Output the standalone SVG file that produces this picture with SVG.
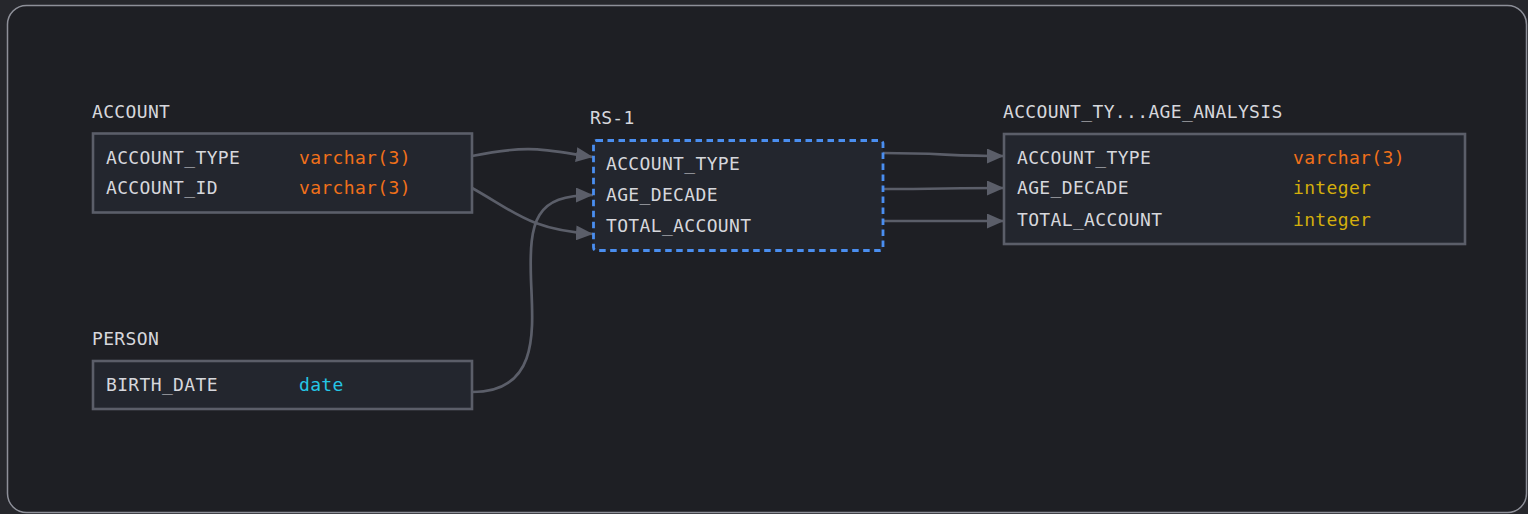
<svg xmlns="http://www.w3.org/2000/svg" width="1528" height="514" viewBox="0 0 1528 514">
  <style>
    .txt { font-family: "DejaVu Sans Mono", "Liberation Mono", monospace; font-size: 18px; letter-spacing: 0.35px; fill: #d6d7dc; }
    .title { fill: #d6d7dc; }
    .t-varchar { fill: #f0701a; }
    .t-int { fill: #d4ae0c; }
    .t-date { fill: #25c6e6; }
    .box { fill: #23262e; stroke: #5b5e69; stroke-width: 2.6; }
    .rs { fill: #23262e; stroke: #4a8ef0; stroke-width: 2.8; stroke-dasharray: 6.5 4.5; }
    .edge { fill: none; stroke: #5b5e69; stroke-width: 2.7; marker-end: url(#arrow); }
  </style>
  <defs>
    <marker id="arrow" viewBox="0 0 17 15" refX="17" refY="7.5" markerWidth="17" markerHeight="15" markerUnits="userSpaceOnUse" orient="auto">
      <path d="M0,0 L17,7.5 L0,15 Z" fill="#5b5e69"/>
    </marker>
  </defs>

  <!-- canvas -->
  <rect x="0" y="0" width="1528" height="514" fill="#26272c"/>
  <rect x="7.5" y="5.5" width="1519" height="507" rx="19" fill="#1e1f24" stroke="#8e9099" stroke-width="1.5"/>

  <!-- connectors -->
  <g id="connectors">
    <path class="edge" d="M472,156 C530,144 545,150 593,157"/>
    <path class="edge" d="M472,188 C515,212 530,230 593,234"/>
    <path class="edge" d="M472,392 C540,392 533,330 531,280 C529,220 535,195 593,195"/>
    <path class="edge" d="M883,153 C940,153 950,156 1004,156"/>
    <path class="edge" d="M883,189 C940,189 950,188 1004,188"/>
    <path class="edge" d="M883,221 C940,221 950,221 1004,221"/>
  </g>

  <!-- ACCOUNT table -->
  <g id="node-account">
    <text class="txt title" x="92" y="117.5">ACCOUNT</text>
    <rect class="box" x="93" y="133.5" width="379" height="79"/>
    <text class="txt" x="106" y="163.5">ACCOUNT_TYPE</text>
    <text class="txt t-varchar" x="299" y="163.5">varchar(3)</text>
    <text class="txt" x="106" y="194">ACCOUNT_ID</text>
    <text class="txt t-varchar" x="299" y="194">varchar(3)</text>
  </g>

  <!-- PERSON table -->
  <g id="node-person">
    <text class="txt title" x="92" y="345">PERSON</text>
    <rect class="box" x="93" y="361" width="379" height="48"/>
    <text class="txt" x="106" y="391">BIRTH_DATE</text>
    <text class="txt t-date" x="299" y="391">date</text>
  </g>

  <!-- RS-1 result set -->
  <g id="node-rs1">
    <text class="txt title" x="590" y="124">RS-1</text>
    <rect class="rs" x="593.5" y="140.5" width="289.5" height="110" rx="3"/>
    <text class="txt" x="606" y="170">ACCOUNT_TYPE</text>
    <text class="txt" x="606" y="201">AGE_DECADE</text>
    <text class="txt" x="606" y="232">TOTAL_ACCOUNT</text>
  </g>

  <!-- ACCOUNT_TYPE_AGE_ANALYSIS table -->
  <g id="node-analysis">
    <text class="txt title" x="1003" y="117.5">ACCOUNT_TY...AGE_ANALYSIS</text>
    <rect class="box" x="1004" y="134" width="461" height="110"/>
    <text class="txt" x="1017" y="163.5">ACCOUNT_TYPE</text>
    <text class="txt t-varchar" x="1293" y="163.5">varchar(3)</text>
    <text class="txt" x="1017" y="194">AGE_DECADE</text>
    <text class="txt t-int" x="1293" y="194">integer</text>
    <text class="txt" x="1017" y="225.5">TOTAL_ACCOUNT</text>
    <text class="txt t-int" x="1293" y="225.5">integer</text>
  </g>
</svg>
